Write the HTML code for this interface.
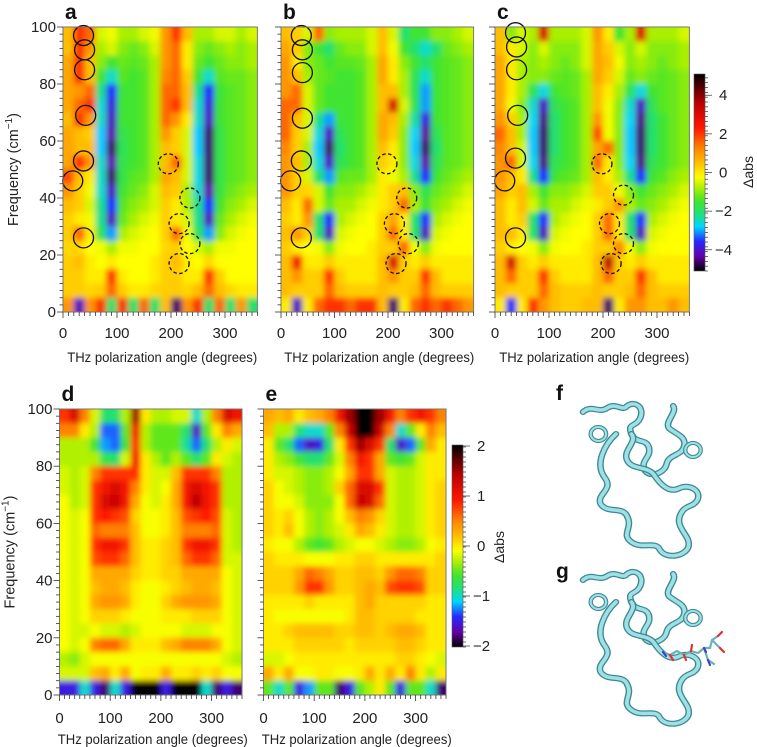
<!DOCTYPE html>
<html><head><meta charset="utf-8">
<style>
html,body{margin:0;padding:0;background:#fff;}
svg{display:block;font-family:"Liberation Sans",Arial,sans-serif;}
</style></head>
<body>
<svg id="fig" width="757" height="747" viewBox="0 0 757 747" xmlns="http://www.w3.org/2000/svg">
<defs>
<filter id="blur" x="-5%" y="-5%" width="110%" height="110%"><feGaussianBlur stdDeviation="3"/></filter>
<linearGradient id="cbgrad1" x1="0" y1="1" x2="0" y2="0"></linearGradient>
<linearGradient id="cbgrad2" x1="0" y1="1" x2="0" y2="0"></linearGradient>
<g id="protein">
<path d="M0,8 C8,0 14,10 22,4 C30,-2 36,8 40,2 C48,-4 56,4 52,14 C48,24 40,18 44,30 C48,40 58,34 60,44 C62,54 52,56 56,66 C60,74 74,70 76,60 C78,50 90,52 92,42 C94,32 84,30 78,24 C74,18 86,8 82,2" fill="none" stroke="#3d8a92" stroke-width="6" stroke-linecap="round"/>
<path d="M0,8 C8,0 14,10 22,4 C30,-2 36,8 40,2 C48,-4 56,4 52,14 C48,24 40,18 44,30 C48,40 58,34 60,44 C62,54 52,56 56,66 C60,74 74,70 76,60 C78,50 90,52 92,42 C94,32 84,30 78,24 C74,18 86,8 82,2" fill="none" stroke="#9ee0e6" stroke-width="3.5" stroke-linecap="round"/>
<path d="M30,30 C20,40 10,60 20,74 C28,86 12,90 16,100 C22,110 36,102 40,112 C46,124 34,130 44,138 C54,146 66,136 70,146 C76,156 94,152 96,142 C98,132 84,124 88,112 C92,100 100,104 104,96 C108,86 96,80 88,84 C78,90 70,80 64,70 C58,62 44,66 40,56 C36,46 50,38 44,30" fill="none" stroke="#3d8a92" stroke-width="6" stroke-linecap="round"/>
<path d="M30,30 C20,40 10,60 20,74 C28,86 12,90 16,100 C22,110 36,102 40,112 C46,124 34,130 44,138 C54,146 66,136 70,146 C76,156 94,152 96,142 C98,132 84,124 88,112 C92,100 100,104 104,96 C108,86 96,80 88,84 C78,90 70,80 64,70 C58,62 44,66 40,56 C36,46 50,38 44,30" fill="none" stroke="#9ee0e6" stroke-width="3.5" stroke-linecap="round"/>
<circle cx="14" cy="30" r="7" fill="none" stroke="#3d8a92" stroke-width="4"/>
<circle cx="14" cy="30" r="7" fill="none" stroke="#9ee0e6" stroke-width="2"/>
<circle cx="100" cy="46" r="7" fill="none" stroke="#3d8a92" stroke-width="4"/>
<circle cx="100" cy="46" r="7" fill="none" stroke="#9ee0e6" stroke-width="2"/>
</g>
</defs>
<g id="root"></g>
</svg>
<script>
// ---------- data ----------
const angles = [10,30,50,70,90,110,130,150,170,190,210,230,250,270,290,310,330,350];
const freqs = [97.5,92.5,87.5,82.5,77.5,72.5,67.5,62.5,57.5,52.5,47.5,42.5,37.5,32.5,27.5,22.5,17.5,12.5,7.5,2.5];
const topTicksY = [0,20,40,60,80,100];
const xTickLabels = [0,100,200,300];
const cbTicksTop = [4,2,0,-2,-4];
const cbTicksBottom = [2,1,0,-1,-2];

const dataA = [
[0.5,2,1.5,-0.5,-0.3,-0.8,-0.8,-0.5,-0.3,1,2,0.5,-0.8,-0.8,-0.5,-0.5,-0.8,-0.5],
[0.5,2,1,-0.8,-0.5,-1,-1.2,-1,-0.5,1,1.5,0,-1,-1.2,-1,-0.8,-1,-0.8],
[0.8,2,0.5,-1,-1.5,-1.2,-1.3,-1.2,-0.8,1,1.5,0,-1.2,-1.5,-1.2,-1,-1,-0.8],
[0.8,2,0.5,-1.5,-2.5,-1.3,-1.5,-1.3,-0.8,1.2,1.5,0.3,-1.5,-2.5,-1.3,-1.2,-1.2,-1],
[0.8,1,1.5,-2.2,-3.5,-1.5,-1.5,-1.3,-0.8,1.5,1.5,0.5,-2.2,-3.5,-1.5,-1.3,-1.2,-1],
[0.8,1.5,2,-2.5,-3.8,-1.5,-1.5,-1.3,-0.8,1.5,2,0.5,-2.5,-3.8,-1.5,-1.3,-1.2,-1],
[0.5,2,1,-2.5,-4,-1.5,-1.5,-1.3,-0.8,1.5,1,0,-2.5,-4,-1.5,-1.3,-1.2,-1],
[0.8,0.5,0.3,-2.8,-4.2,-1.7,-1.5,-1.3,-0.8,1,0.3,-0.5,-2.8,-4.5,-1.7,-1.3,-1.2,-1],
[0.8,0.5,0.5,-2.8,-4.5,-1.8,-1.5,-1.3,-0.8,0.5,0.3,-0.5,-2.8,-4.5,-1.7,-1.3,-1.2,-1],
[0.8,2,1,-2.5,-4.2,-1.7,-1.5,-1.3,-0.8,0.5,1.5,-0.5,-2.6,-4.5,-1.7,-1.3,-1.2,-1],
[1.8,0.5,0,-2.5,-4.5,-1.7,-1.3,-1.2,-0.8,0.8,0.5,-0.5,-2.6,-4.5,-1.7,-1.3,-1.2,-1],
[1,0.3,-0.3,-2.5,-4,-1.5,-1.2,-1,-0.5,0.5,0.3,-0.8,-2.5,-4.2,-1.6,-1.2,-1,-0.8],
[0.5,0.3,-0.5,-2.2,-3.5,-1.3,-1,-0.8,-0.5,0.3,0,-0.8,-2.2,-3.5,-1.4,-1,-0.8,-0.5],
[0.3,0,-0.3,-2.2,-4,-1.2,-0.8,-0.5,-0.3,0.3,0,-0.5,-2.2,-4,-1.2,-0.8,-0.5,-0.3],
[0.3,1.5,0,-1.8,-3,-0.8,-0.5,-0.3,-0.2,0.3,1.5,-0.3,-1.8,-3,-1,-0.5,-0.3,-0.2],
[0.2,0.2,-0.2,-0.3,-0.8,-0.3,-0.3,-0.2,-0.2,0.2,0.3,-0.2,-0.5,-0.8,-0.3,-0.3,-0.2,-0.2],
[0.3,0.5,0,-0.2,0,-0.2,-0.2,-0.2,0,0.3,0.5,0,-0.2,0.2,-0.2,-0.2,-0.2,-0.2],
[0.3,0.3,0,0,2,0,-0.2,-0.2,0,0.3,0.3,0,0,2,0.3,-0.2,-0.2,-0.2],
[0.3,0.3,0.2,0.3,1.5,0.3,0,0,0.2,0.3,0.3,0.2,0.5,1.5,0.5,0.2,0,0],
[1,-4,1,2,-2,2,-2,1.5,-2,0.5,-4.5,1,2,-2,1.5,-2,1,-2]];

const dataB = [
[0.5,0.3,-0.5,1.5,-1,-0.8,-0.8,-0.8,-0.5,0.5,-0.5,-2,-1.5,-1.5,-1,-1,-0.8,-0.5],
[0.8,0.3,-1,-1.5,-2,-1.2,-1,-1,-0.5,0.5,-0.3,-1.5,-2,-2.5,-2,-1.2,-1,-0.8],
[1,0,-1,-1.2,-1.5,-1.3,-1.3,-1.2,-0.8,0.8,0,-1,-1.5,-2,-1.5,-1.3,-1.2,-1],
[1,0.5,-0.8,-1.2,-1.3,-1.5,-1.5,-1.3,-0.8,0.8,0,-0.8,-1.8,-2.5,-1.5,-1.3,-1.2,-1],
[1,1.5,-0.5,-1.2,-1.5,-1.5,-1.5,-1.3,-0.8,0.5,0.5,-0.8,-1.8,-3,-1.5,-1.3,-1.2,-1],
[1.5,1.5,-0.5,-1.2,-1.5,-1.5,-1.5,-1.3,-0.8,0.5,3,-0.5,-1.8,-3,-1.5,-1.3,-1.2,-1],
[1.5,0.5,-0.5,-2.2,-3,-1.5,-1.5,-1.3,-0.8,0.8,0.5,-0.8,-2.3,-3.8,-1.5,-1.3,-1.2,-1],
[1.5,0.3,-0.5,-2.6,-4,-1.8,-1.5,-1.3,-0.8,0.8,0.3,-1,-2.7,-4.3,-1.8,-1.3,-1.2,-1],
[1.2,0.3,-0.8,-2.8,-4.5,-2,-1.5,-1.3,-0.8,0.5,0,-1,-2.8,-4.5,-2,-1.3,-1.2,-1],
[1,0.5,-0.8,-2.6,-4,-1.8,-1.5,-1.3,-0.8,0.3,0,-1,-2.6,-4.2,-1.8,-1.3,-1.2,-1],
[1,0.3,-0.5,-2,-3,-1.3,-1.2,-1.2,-0.8,0,-0.3,-0.8,-2.2,-3.5,-1.5,-1.2,-1,-0.8],
[1,0.3,0.2,-0.5,-1.5,-1,-1,-0.8,-0.5,0,0.3,0.5,-1,-1.8,-1.2,-1,-0.8,-0.5],
[0.5,0,1.5,-0.5,-1.2,-0.8,-0.8,-0.5,-0.3,0,0.3,1.5,-0.8,-1.5,-1,-0.8,-0.5,-0.3],
[0.3,0,1,-2,-3.5,-0.8,-0.5,-0.3,-0.2,0.3,0.8,0,-2,-3.5,-0.8,-0.5,-0.3,-0.2],
[0.5,1,0.3,-2,-4,-0.5,-0.3,-0.2,-0.2,0.3,1.5,0,-2,-4,-0.5,-0.3,-0.2,-0.2],
[0.3,0,-0.2,-0.3,-1,-0.3,-0.2,-0.2,0,0.3,0.3,1.5,-0.3,-1,-0.3,-0.2,-0.2,-0.2],
[0.5,2.5,0,0,0.3,0,0,0,0,0.5,3,0.3,0,0.3,0,0,0,0],
[0.5,1,0.3,0.3,2,0.3,0,0,0,0.5,1,0.3,0.3,2,0.5,0,0,0],
[0.5,0.3,0.3,0.3,1.5,0.5,0.3,0.3,0.3,0.5,0.3,0.3,0.5,1.5,0.5,0.3,0.3,0.3],
[0,-4,0,1.5,2,2,1.5,2,2,0.5,-4.5,0,1.5,2,1.5,2,1.5,1]];

const dataC = [
[0.5,-1,-0.5,-0.8,3,-0.8,-0.8,-0.8,-0.5,1,0,-1.5,-0.8,3,-0.8,-0.8,-0.8,-0.5],
[0.5,0,-0.5,-1,-0.5,-1,-1,-1,-0.5,0.8,0.3,-0.5,-1,-0.5,-1,-1,-1,-0.8],
[0.8,0,-0.8,-1,-0.8,-1,-1.2,-1,-0.5,0.8,0.5,-0.3,-1,-0.8,-1,-1.2,-1,-0.8],
[0.8,0,-0.8,-1,-1,-1.2,-1.3,-1.2,-0.8,0.8,0.3,-0.5,-1.2,-1,-1.2,-1.3,-1.2,-1],
[0.8,0,-0.8,-1.8,-2.6,-1.5,-1.3,-1.2,-0.8,0.5,0,-0.8,-1.8,-2.6,-1.5,-1.3,-1.2,-1],
[0.8,-0.3,-1,-2.5,-4,-1.8,-1.5,-1.3,-0.8,0.5,-0.3,-1,-2.5,-4,-1.8,-1.3,-1.2,-1],
[1,0.3,-0.8,-2.7,-4.4,-2,-1.5,-1.3,-0.8,1,-0.3,-1,-2.7,-4.4,-2,-1.5,-1.2,-1],
[1.5,0.5,-0.8,-2.8,-4.5,-2,-1.5,-1.3,-0.8,1.8,-0.3,-1,-2.8,-4.5,-2,-1.5,-1.2,-1],
[1.2,0.5,-0.5,-2.8,-4.5,-2,-1.5,-1.3,-0.8,0.8,1.5,-1,-2.8,-4.5,-2,-1.5,-1.2,-1],
[1,1.5,-0.5,-2.7,-4.4,-1.8,-1.5,-1.3,-0.8,1.5,0,-1,-2.7,-4.4,-1.8,-1.5,-1.2,-1],
[1,0.5,0,-2.2,-3.5,-1.5,-1.3,-1.2,-0.8,0.5,0,-0.8,-2.2,-3.5,-1.5,-1.3,-1,-0.8],
[0.8,0.3,0.5,-0.8,-1.5,-1,-1,-0.8,-0.5,0.3,0.3,-0.3,-1,-1.5,-1.2,-1,-0.8,-0.5],
[0.5,0,0.5,-0.5,-1.2,-0.8,-0.8,-0.5,-0.3,0,0.3,1,-0.8,-1.2,-1,-0.8,-0.5,-0.3],
[0.5,0,0.3,-2,-3.5,-0.8,-0.5,-0.3,-0.2,0.3,1.5,0,-2,-3.5,-0.8,-0.5,-0.3,-0.2],
[0.5,0.5,0,-2,-4,-0.5,-0.3,-0.2,-0.2,0.3,1.5,0,-2,-4,-0.5,-0.3,-0.2,-0.2],
[0.3,0,-0.2,-0.3,-1,-0.3,-0.2,-0.2,0,0.3,0.3,1.2,-0.3,-1,-0.3,-0.2,-0.2,-0.2],
[0.5,3,0.3,0,0.3,0,0,0,0,0.5,3.5,0.3,0,0.3,0,0,0,0],
[0.5,1.5,0.3,0.3,2,0.3,0,0,0,0.5,1.5,0.3,0.3,2,0.5,0,0,0],
[0.5,0.3,0.3,0.3,1.5,0.5,0.3,0.3,0.3,0.5,0.3,0.3,0.5,1.5,0.5,0.3,0.3,0.3],
[0,-3.5,0,2,1,0.5,0.3,0.3,0.5,0.5,-4.5,0,1,1,0.5,0.5,1,0.5]];

const dataD = [
[0.8,1.2,0.5,-0.2,-0.8,-0.8,-0.3,1.5,0,-0.3,-0.3,-0.2,-0.2,-1,-0.3,0.5,1.2,1],
[0.5,0.5,0,-0.3,-1.3,-1.3,-0.5,1,-0.3,-0.5,-0.5,-0.5,-0.8,-1.6,-0.5,0,0.5,0.3],
[-0.3,-0.3,-0.3,-0.6,-1.2,-1.3,-0.6,0.8,-0.3,-0.5,-0.5,-0.5,-0.9,-1.3,-0.8,-0.3,0,-0.2],
[-0.3,-0.3,-0.3,-0.3,-0.7,-0.8,-0.2,1,0,-0.3,-0.5,-0.3,-0.5,-0.8,-0.5,0,-0.2,-0.3],
[-0.2,-0.3,-0.2,0.5,0.8,0.8,0.8,0.8,0,-0.2,-0.2,0.2,0.8,0.8,0.8,0.5,-0.3,-0.3],
[-0.2,-0.3,-0.2,0.8,1,1.2,1,0.5,0,-0.2,-0.1,0.3,1,1.2,1,0.8,-0.3,-0.3],
[-0.1,-0.3,-0.2,0.8,1.2,1.3,1,0.3,-0.1,-0.2,0,0.3,1,1.4,1,0.8,-0.3,-0.3],
[-0.1,-0.2,-0.1,0.8,0.9,0.8,0.7,0.1,-0.1,-0.1,0,0.2,0.7,0.8,0.9,0.7,-0.2,-0.3],
[-0.1,-0.2,-0.1,0.6,0.5,0.5,0.5,0.2,-0.1,-0.1,0,0.2,0.5,0.5,0.5,0.6,-0.2,-0.3],
[-0.1,-0.2,-0.1,0.8,1,1,0.8,0.2,0,0,0.1,0.2,0.8,1,1,0.8,-0.2,-0.3],
[-0.1,-0.2,-0.1,0.7,0.8,0.8,0.6,0.2,0,0,0.1,0.2,0.6,0.8,0.8,0.6,-0.2,-0.2],
[-0.1,-0.2,-0.1,0.3,0.3,0.3,0.3,0.1,0,0,0.1,0.1,0.3,0.3,0.3,0.3,-0.1,-0.2],
[-0.1,-0.2,-0.1,0.2,0.3,0.3,0.2,0,-0.1,-0.1,0,0.1,0.2,0.3,0.3,0.2,-0.1,-0.2],
[-0.1,-0.2,-0.1,0.3,0.4,0.4,0.3,0,-0.1,-0.1,0.1,0.3,0.4,0.4,0.4,0.3,-0.1,-0.2],
[-0.1,-0.2,-0.1,0.1,0.1,0.1,0,-0.1,-0.1,-0.1,0,0,0,0.1,0.1,0.1,-0.1,-0.2],
[-0.1,-0.2,-0.2,-0.1,-0.2,-0.2,-0.3,-0.2,-0.1,-0.1,-0.1,-0.1,-0.2,-0.2,-0.2,-0.1,-0.1,-0.2],
[-0.1,-0.2,-0.1,0.5,0.6,0.6,0.3,0,0,0,0.2,0.3,0.5,0.5,0.5,0.3,-0.1,-0.2],
[-0.3,-0.4,-0.2,-0.1,-0.1,-0.1,-0.1,-0.1,-0.1,-0.1,-0.1,-0.1,-0.1,-0.1,-0.1,-0.1,-0.2,-0.3],
[-0.2,-0.2,-0.2,0.2,0.3,0,0.3,-0.1,0,0,0.3,0,0,0.1,0,0.1,-0.1,-0.1],
[-1.5,-1.5,-1,-1.5,-1.8,-1,-1.5,-2,-2,-2,-1.5,-2,-2,-2,-1,-1.8,-1.5,-1.8]];

const dataE = [
[0.3,0.2,0.3,0,0.2,0.3,0.5,1,1.5,2,2,1.5,1,0.5,0.8,1,0.8,0.5],
[0.2,-0.3,-0.3,-0.8,-1,-1,-0.5,0.5,1.3,2,2,1.3,0.5,-1,-0.5,0,0.5,0.2],
[0,-0.5,-0.8,-1.3,-1.6,-1.5,-0.8,0,0.8,1.5,1.2,0.8,-0.8,-1.6,-1.3,-0.5,0.3,0],
[0,-0.3,-0.4,-0.6,-0.8,-0.8,-0.5,-0.2,0.5,1,0.8,0.3,-0.5,-0.6,-0.5,-0.2,0,0],
[0,-0.2,-0.2,-0.3,-0.4,-0.4,-0.3,-0.1,0.3,0.8,0.8,0.3,-0.2,-0.3,-0.3,-0.2,0,0],
[0.1,-0.1,-0.2,-0.3,-0.4,-0.4,-0.3,0.1,0.6,1.2,1.2,0.8,-0.2,-0.3,-0.3,-0.2,0,0.1],
[0.1,-0.1,-0.1,-0.2,-0.4,-0.4,-0.4,-0.1,0.6,1.3,1.2,0.6,-0.2,-0.3,-0.3,-0.2,0,0.1],
[0.1,0,0.1,-0.1,-0.3,-0.4,-0.3,-0.1,0.2,0.5,0.4,0.1,-0.2,-0.3,-0.3,-0.2,0,0.1],
[0.1,0,0.2,-0.1,-0.3,-0.4,-0.3,-0.2,0,0.3,0.2,0,-0.2,-0.3,-0.3,-0.2,0,0.1],
[0,-0.1,-0.1,-0.3,-0.5,-0.6,-0.5,-0.3,-0.2,-0.1,-0.1,-0.2,-0.3,-0.4,-0.4,-0.3,-0.1,0],
[0.1,0,0,0,-0.1,-0.1,-0.1,0,0,0.1,0.1,0,0,0,0,0,0,0.1],
[0.1,0.1,0.1,0.3,0.6,0.5,0.3,0.1,0.1,0.2,0.2,0.1,0.4,0.6,0.6,0.5,0.1,0.1],
[0.1,0.1,0.1,0.4,0.8,0.8,0.4,0.1,0.1,0.2,0.3,0.2,0.7,0.8,0.8,0.7,0.1,0.1],
[0,0,0,0,0.1,0,0,0,0,0.2,0.3,0.1,0.1,0.1,0.1,0.1,0,0],
[0,-0.1,-0.1,-0.1,-0.1,-0.1,-0.1,-0.1,0,0.2,0.2,0.1,0.1,0.1,0.1,0,0,0],
[0,0,0.1,0.2,0.2,0.2,0.2,0.1,0.1,0.2,0.2,0.1,0.2,0.3,0.3,0.2,0,0],
[0,0,0,0.1,0.1,0.1,0.1,0.1,0,0.1,0.1,0.1,0.1,0.2,0.2,0.1,0,0],
[-0.2,-0.2,-0.1,0,0,0,0,0,0,0,0,0,0,0.1,0.1,0,-0.1,-0.2],
[0.3,0,0.3,-0.1,-0.1,0,0,-0.1,-0.1,0,0.3,0,0.3,0,0.5,0,-0.3,0],
[-0.5,-1,-0.5,-1.5,-1.2,-0.5,-0.5,-1.8,-1.5,-0.5,-0.3,0,-0.5,-1.5,-0.5,-0.5,-1,-1.8]];

const solidA = [[38,97],[40,92],[40,85],[42,69],[38,53],[18,46],[38,26]];
const dashedA = [[195,52],[235,40],[215,31],[235,24],[215,17]];
const solidB = [[38,97],[40,92],[40,84],[40,68],[38,53],[18,46],[38,26]];
const dashedB = [[198,52],[235,40],[212,31],[238,24],[215,17]];
const solidC = [[38,98],[40,93],[40,85],[42,69],[38,54],[18,46],[38,26]];
const dashedC = [[198,52],[238,41],[212,31],[238,24],[215,17]];

// ---------- rendering ----------
const NS = "http://www.w3.org/2000/svg";
const root = document.getElementById('root');
const stops = [[-1,[0,0,0]],[-0.85,[100,0,170]],[-0.7,[40,40,255]],[-0.55,[0,215,255]],[-0.42,[30,225,120]],[-0.28,[70,228,40]],[-0.14,[185,242,0]],[-0.04,[255,255,0]],[0.06,[255,205,0]],[0.25,[255,130,0]],[0.45,[255,25,0]],[0.7,[190,0,0]],[0.86,[90,0,0]],[1,[0,0,0]]];
function cmap(t){
  t=Math.max(-1,Math.min(1,t));
  for(let i=1;i<stops.length;i++){
    if(t<=stops[i][0]){
      const a=stops[i-1],b=stops[i],u=(t-a[0])/(b[0]-a[0]);
      const c=a[1].map((v,k)=>Math.round(v+(b[1][k]-v)*u));
      return `rgb(${c[0]},${c[1]},${c[2]})`;
    }
  }
  return 'rgb(0,0,0)';
}
function mk(tag,attrs,parent){
  const e=document.createElementNS(NS,tag);
  for(const k in attrs) e.setAttribute(k,attrs[k]);
  (parent||root).appendChild(e);
  return e;
}
function txt(s,attrs,parent){const e=mk('text',attrs,parent);e.textContent=s;return e;}

function panel(p){
  const g=mk('g',{});
  
  
  const xs=a=>p.x0+a*p.xk;
  const ys=f=>p.yb-f*(p.yb-p.yt)/100;
  const L=xs(0),R=xs(360),T=ys(100),B=ys(0);
  const clip=mk('clipPath',{id:'clip'+p.id},g);
  mk('rect',{x:L,y:T,width:R-L,height:B-T},clip);
  const hm=mk('g',{'clip-path':'url(#clip'+p.id+')'},g);
  
  
  const cells=mk('g',{filter:'url(#blur)'},hm);
  const dA=angles[1]-angles[0], dF=freqs[0]-freqs[1];
  p.data.forEach((row,j)=>{
    row.forEach((v,i)=>{
      let x1=xs(angles[i]-dA/2),x2=xs(angles[i]+dA/2);
      let y1=ys(freqs[j]+dF/2),y2=ys(freqs[j]-dF/2);
      if(i===0)x1-=12; if(i===row.length-1)x2+=12;
      if(j===0)y1-=12; if(j===p.data.length-1)y2+=12;
      const r=mk('rect',{x:x1.toFixed(2),y:y1.toFixed(2),width:(x2-x1+0.6).toFixed(2),height:(y2-y1+0.6).toFixed(2),fill:cmap(v/p.vmax)},cells);
      
      
    });
  });
  (p.solid||[]).forEach(c=>{
    const e=mk('circle',{cx:xs(c[0]),cy:ys(c[1]),r:10,fill:'none',stroke:'#111','stroke-width':1.3},g);
    
    
  });
  (p.dashed||[]).forEach(c=>{
    const e=mk('circle',{cx:xs(c[0]),cy:ys(c[1]),r:10,fill:'none',stroke:'#111','stroke-width':1.3,'stroke-dasharray':'3.5,2.5'},g);
    
    
  });
  const fr=mk('rect',{x:L,y:T,width:R-L,height:B-T,fill:'none',stroke:'#777','stroke-width':1},g);
  
  
  const yax=mk('g',{stroke:'#333','stroke-width':0.8},g);
  
  
  for(let f=0;f<=100;f+=2.5){
    const major=f%20===0;
    mk('line',{x1:L-(major?6:3.5),x2:L,y1:ys(f),y2:ys(f)},yax);
  }
  if(p.showY){
    topTicksY.forEach(f=>{
      const t=txt(String(f),{x:L-7,y:ys(f)+5,'font-size':15,'text-anchor':'end',fill:'#222'},g);
      
      
    });
    const cy=(T+B)/2;
    const yt=mk('text',{x:0,y:0,transform:`translate(${L-45},${cy}) rotate(-90)`,'font-size':14.5,'text-anchor':'middle',fill:'#222'},g);
    
    
    yt.innerHTML='Frequency (cm<tspan dy="-6" font-size="10">−1</tspan><tspan dy="6">)</tspan>';
  }
  const xax=mk('g',{stroke:'#333','stroke-width':0.8},g);
  
  
  for(let a=0;a<=360;a+=10){
    const major=a%100===0;
    mk('line',{x1:xs(a),x2:xs(a),y1:B,y2:B+(major?6:4)},xax);
  }
  xTickLabels.forEach(a=>{
    const t=txt(String(a),{x:xs(a),y:p.tickY,'font-size':15,'text-anchor':'middle',fill:'#222'},g);
    
    
  });
  const xt=txt('THz polarization angle (degrees)',{x:(L+R)/2+2,y:p.titleY,'font-size':13.5,'text-anchor':'middle',fill:'#222',textLength:190,lengthAdjust:'spacingAndGlyphs'},g);
  
  
  const pl=txt(p.id,{x:L+2,y:T-8,'font-size':21,'font-weight':'bold',fill:'#111'},g);
  
  
}

panel({id:'a',data:dataA,x0:63,xk:0.54,yt:27,yb:312,vmax:5,showY:true,tickY:338,titleY:362,solid:solidA,dashed:dashedA});
panel({id:'b',data:dataB,x0:281,xk:0.535,yt:27,yb:312,vmax:5,showY:false,tickY:338,titleY:362,solid:solidB,dashed:dashedB});
panel({id:'c',data:dataC,x0:495,xk:0.54,yt:27,yb:312,vmax:5,showY:false,tickY:338,titleY:362,solid:solidC,dashed:dashedC});
panel({id:'d',data:dataD,x0:59.5,xk:0.507,yt:409,yb:695,vmax:2,showY:true,tickY:723,titleY:744});
panel({id:'e',data:dataE,x0:263.5,xk:0.507,yt:409,yb:695,vmax:2,showY:false,tickY:723,titleY:744});

function colorbar(id,grad,x,yTop,yBot,vmax,ticks,minorStep){
  const g=mk('g',{});
  
  
  const gr=document.getElementById(grad);
  for(let k=0;k<=40;k++){
    const t=-1+2*k/40;
    mk('stop',{offset:(k/40).toFixed(3),'stop-color':cmap(t)},gr);
  }
  const w=11;
  mk('rect',{x:x,y:yTop,width:w,height:yBot-yTop,fill:`url(#${grad})`,stroke:'#555','stroke-width':0.6},g);
  const ys=v=>yBot-(v+vmax)/(2*vmax)*(yBot-yTop);
  const tk=mk('g',{stroke:'#333','stroke-width':0.7},g);
  for(let v=-vmax;v<=vmax+1e-9;v+=minorStep){
    mk('line',{x1:x+w,x2:x+w+3,y1:ys(v),y2:ys(v)},tk);
  }
  ticks.forEach(v=>{
    mk('line',{x1:x+w,x2:x+w+7,y1:ys(v),y2:ys(v)},tk);
    const t=txt(v<0?'−'+Math.abs(v):String(v),{x:x+w+(v<0?10:14),y:ys(v)+5,'font-size':15,fill:'#222'},g);
    
    
  });
  return g;
}
colorbar('top','cbgrad1',694,74,271,5.1,cbTicksTop,0.25);
colorbar('bottom','cbgrad2',452,445,647,2.02,cbTicksBottom,0.1);
const l1=txt('Δabs',{x:0,y:0,transform:'translate(753,172) rotate(-90)','font-size':14,'text-anchor':'middle',fill:'#222'});


const l2=txt('Δabs',{x:0,y:0,transform:'translate(504,547) rotate(-90)','font-size':14,'text-anchor':'middle',fill:'#222'});



const pf=txt('f',{x:556,y:400,'font-size':21,'font-weight':'bold',fill:'#111'});


const pg=txt('g',{x:556,y:578,'font-size':21,'font-weight':'bold',fill:'#111'});


const u1=mk('use',{href:'#protein',transform:'translate(583,404) scale(1.1,1.0)'});


const u2=mk('use',{href:'#protein',transform:'translate(583,572) scale(1.1,1.0)'});


const lig=mk('g',{'stroke-width':2.2,'stroke-linecap':'round',fill:'none'});


mk('path',{d:'M663,652 L670,655 L677,651 L684,655 L691,651 L698,653 L704,648 L710,648 L712,640 L718,636 M704,648 L708,660 L714,664 M712,640 L720,648',stroke:'#6fb0b8'},lig);
mk('path',{d:'M670,655 L673,660 M684,655 L686,660 M691,651 L692,645 M718,636 L722,632 M720,648 L724,652',stroke:'#e03030'},lig);
mk('path',{d:'M663,652 L666,656 M704,648 L706,652 M708,660 L710,665',stroke:'#4040d0'},lig);
</script>
</body></html>
